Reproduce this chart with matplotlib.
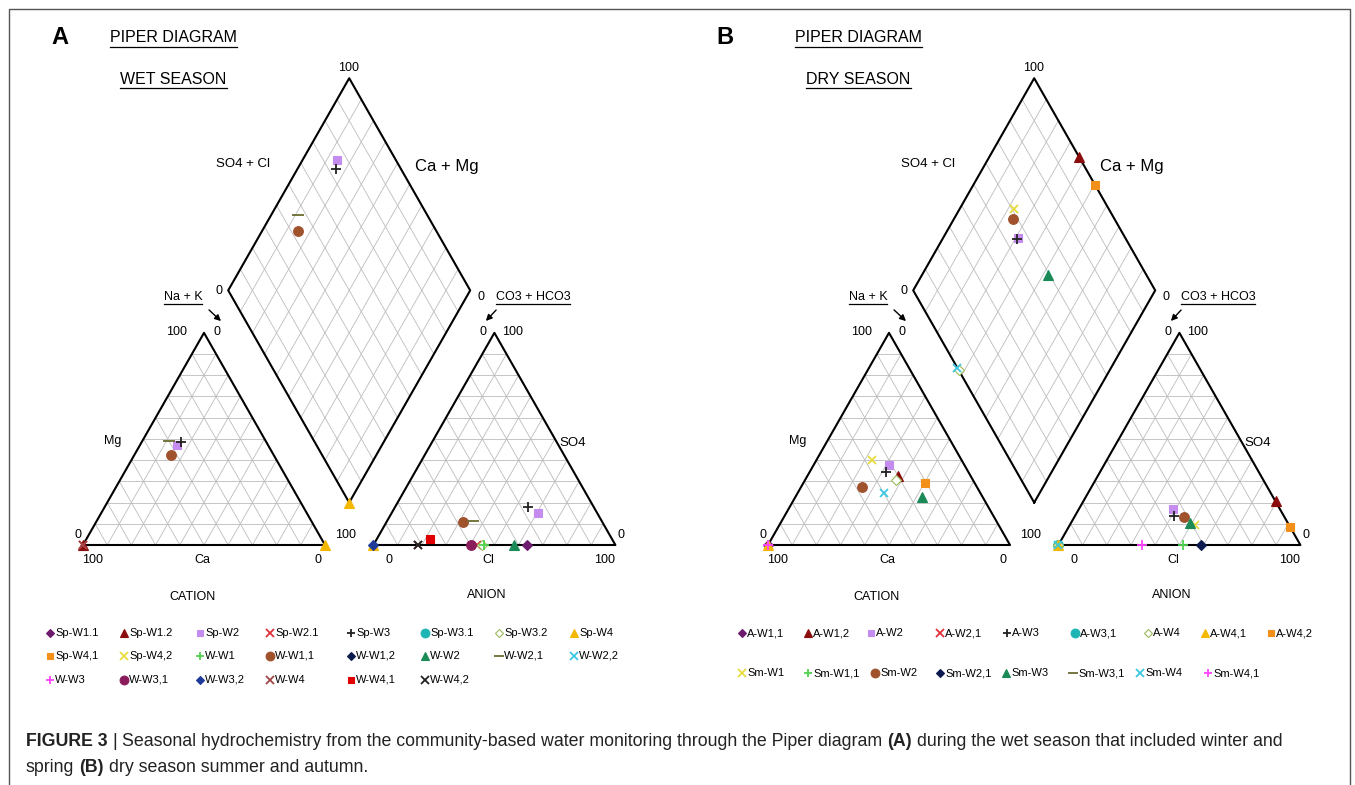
import numpy as np
import matplotlib
matplotlib.use('Agg')
import matplotlib.pyplot as plt

plt.rcParams['font.family'] = ['Liberation Sans', 'DejaVu Sans']

W, H = 1355, 785
UX, UY = 242, 245          # pixels per diagram unit
SQ3 = np.sqrt(3) / 2
GAP = 0.2
nan = np.nan

# ---------------- data (percent of meq) ----------------
wet_names = ['Sp-W1.1', 'Sp-W1.2', 'Sp-W2', 'Sp-W2.1', 'Sp-W3', 'Sp-W3.1', 'Sp-W3.2', 'Sp-W4',
             'Sp-W4,1', 'Sp-W4,2', 'W-W1', 'W-W1,1', 'W-W1,2', 'W-W2', 'W-W2,1', 'W-W2,2',
             'W-W3', 'W-W3,1', 'W-W3,2', 'W-W4', 'W-W4,1', 'W-W4,2']
wet_cat_mg = [nan, 0, 47.3, 0, 48.4, nan, nan, 0, nan, nan, nan, 42.4, nan, nan, 49.2, nan,
              nan, nan, nan, 0, nan, nan]
wet_cat_nak = [nan, 0, 15.1, 0, 16.2, nan, nan, 100, nan, nan, nan, 15.0, nan, nan, 11.1, nan,
               nan, nan, nan, 0, nan, nan]
wet_an_so4 = [0, nan, 15.1, 0, 18.0, nan, 0, 0, nan, nan, 0, 11.0, nan, 0, 11.3, nan,
              nan, 0, 0, 0, 2.7, 0]
wet_an_cl = [63.5, nan, 60.5, 43.0, 54.9, nan, 45.0, 0, nan, nan, 45.5, 31.4, nan, 58.3, 35.4, nan,
             nan, 40.4, 0, 18.3, 21.9, 18.3]
wet_dia_camg = [nan, nan, 85.5, nan, 84.0, nan, nan, 0, nan, nan, nan, 85.2, nan, nan, 88.7, nan,
                nan, nan, nan, nan, nan, nan]
wet_dia_so4cl = [nan, nan, 75.8, nan, 73.3, nan, nan, 0, nan, nan, nan, 42.6, nan, nan, 46.7, nan,
                 nan, nan, nan, nan, nan, nan]

dry_names = ['A-W1,1', 'A-W1,2', 'A-W2', 'A-W2,1', 'A-W3', 'A-W3,1', 'A-W4', 'A-W4,1', 'A-W4,2',
             'Sm-W1', 'Sm-W1,1', 'Sm-W2', 'Sm-W2,1', 'Sm-W3', 'Sm-W3,1', 'Sm-W4', 'Sm-W4,1']
dry_cat_mg = [0, 32.5, 37.8, nan, 34.6, nan, 30.5, 0, 29.4, 40.0, nan, 27.5, nan, 22.5, nan, 24.6, 0]
dry_cat_nak = [0, 37.3, 31.1, nan, 31.5, nan, 37.6, 0, 50.3, 23.1, nan, 25.0, nan, 52.3, nan, 35.6, 0]
dry_an_so4 = [nan, 20.6, 17.1, nan, 13.8, 0, 0, 0, 8.7, 9.5, 0, 13.2, 0, 10.6, nan, 0, 0]
dry_an_cl = [nan, 79.6, 38.7, nan, 41.0, 0, 0, 0, 91.2, 51.5, 51.4, 45.1, 59.0, 49.2, nan, 0, 34.5]
dry_dia_camg = [nan, 63.0, 69.0, nan, 69.0, nan, 62.4, nan, 49.9, 77.5, nan, 75.4, nan, 48.0, nan, 63.5, nan]
dry_dia_so4cl = [nan, 99.7, 55.8, nan, 55.0, nan, 0, nan, 99.9, 60.7, nan, 58.2, nan, 59.4, nan, 0, nan]

# series styles (same sequence in both panels)
s_marker = ['D', '^', 's', 'x', '+', 'o', 'D', '^', 's', 'x', '+', 'o', 'D', '^', '_', 'x',
            '+', 'o', 'D', 'x', 's', 'x']
s_color = ['#6d1b6d', '#8b0c0c', '#c58cf0', '#e0303a', '#222222', '#1fb5b5', '#9bbb59', '#f5b800',
           '#f39019', '#e8dc3c', '#4fd24f', '#a0522d', '#0d1a4d', '#1a8a57', '#6b6b2f', '#3cc8e0',
           '#ff44ff', '#8b1c5c', '#1f3a99', '#a04646', '#e00000', '#222222']
ms_by = {'o': 7, '^': 6.5, 's': 5.5, 'D': 5, 'x': 6, '+': 7, '_': 8}


def cat_xy(mg, nak):
    mg, nak = np.asarray(mg, float) / 100, np.asarray(nak, float) / 100
    return nak + mg / 2, mg * SQ3


def an_xy(so4, cl):
    so4, cl = np.asarray(so4, float) / 100, np.asarray(cl, float) / 100
    return 1 + GAP + cl + so4 / 2, so4 * SQ3


def dia_xy(camg, so4cl):
    u, v = np.asarray(camg, float) / 100, np.asarray(so4cl, float) / 100
    return 1 + GAP / 2 + (v - u) / 2, GAP * SQ3 + (u + v) * SQ3


def style(i):
    m = s_marker[i]
    c = s_color[i]
    kw = dict(marker=m, color=c, ms=ms_by[m], ls='none', mew=1.3 if m in 'x+_' else 0.8)
    if i == 6:
        kw.update(mfc='white', mec=c)
    return kw


def draw_piper(x0, cat_mg, cat_nak, an_so4, an_cl, dia_camg, dia_so4cl):
    ax = fig.add_axes([(x0 - 0.3 * UX) / W, (H - (545 + 0.65 * UY)) / H,
                       2.8 * UX / W, 2.88 * UY / H])
    ax.set_xlim(-0.3, 2.5)
    ax.set_ylim(-0.65, 2.23)
    ax.axis('off')
    ax.patch.set_visible(False)
    gk = dict(color='#bcbcbc', lw=0.6, zorder=1)
    for t in range(10, 100, 10):
        # cation grid
        ax.plot(*cat_xy([t, t], [0, 100 - t]), **gk)
        ax.plot(*cat_xy([0, 100 - t], [t, t]), **gk)
        ax.plot(*cat_xy([0, 100 - t], [100 - t, 0]), **gk)
        # anion grid
        ax.plot(*an_xy([t, t], [0, 100 - t]), **gk)
        ax.plot(*an_xy([0, 100 - t], [t, t]), **gk)
        ax.plot(*an_xy([0, 100 - t], [100 - t, 0]), **gk)
        # diamond grid
        ax.plot(*dia_xy([t, t], [0, 100]), **gk)
        ax.plot(*dia_xy([0, 100], [t, t]), **gk)
    bk = dict(color='black', lw=1.5, zorder=2)
    ax.plot(*cat_xy([0, 0, 100, 0], [0, 100, 0, 0]), **bk)
    ax.plot(*an_xy([0, 0, 100, 0], [0, 100, 0, 0]), **bk)
    ax.plot(*dia_xy([0, 100, 100, 0, 0], [0, 0, 100, 100, 0]), **bk)
    for i in range(len(cat_mg)):
        kw = style(i)
        if not np.isnan(cat_mg[i]):
            ax.plot(*cat_xy([cat_mg[i]], [cat_nak[i]]), zorder=5, clip_on=False, **kw)
        if not np.isnan(an_so4[i]):
            ax.plot(*an_xy([an_so4[i]], [an_cl[i]]), zorder=5, clip_on=False, **kw)
        if not np.isnan(dia_camg[i]):
            ax.plot(*dia_xy([dia_camg[i]], [dia_so4cl[i]]), zorder=5, clip_on=False, **kw)
    return ax


fig = plt.figure(figsize=(W / 100, H / 100), dpi=100)
ax0 = fig.add_axes([0, 0, 1, 1])
ax0.set_xlim(0, W)
ax0.set_ylim(H, 0)
ax0.axis('off')

# frame
ax0.plot([9, 9, 1350, 1350], [790, 9, 9, 790], color='#555555', lw=1)

draw_piper(83, wet_cat_mg, wet_cat_nak, wet_an_so4, wet_an_cl, wet_dia_camg, wet_dia_so4cl)
draw_piper(768, dry_cat_mg, dry_cat_nak, dry_an_so4, dry_an_cl, dry_dia_camg, dry_dia_so4cl)

labels = [('100', 349, 68, 9), ('SO4 + Cl', 243, 164, 9.5), ('Ca + Mg', 447, 166, 12),
          ('0', 219, 291, 9), ('0', 481, 297, 9),
          ('100', 177, 332, 9), ('0', 217, 332, 9), ('Mg', 113, 441, 9), ('0', 78, 535, 9),
          ('100', 93, 560, 9), ('Ca', 202, 560, 9), ('0', 318, 560, 9), ('100', 346, 535, 9),
          ('0', 483, 332, 9), ('100', 513, 332, 9), ('SO4', 573, 443, 9.5), ('0', 621, 535, 9),
          ('0', 389, 560, 9), ('Cl', 488, 560, 9), ('100', 605, 560, 9),
          ('CATION', 192, 597, 9), ('ANION', 487, 595, 9)]
DX = 685
under = []
for off, letter, season in [(0, 'A', 'WET SEASON'), (DX, 'B', 'DRY SEASON')]:
    for s, x, y, fs in labels:
        ax0.text(x + off, y, s, fontsize=fs, ha='center', va='center')
    ax0.text(60 + off * 0.97, 38, letter, fontsize=17, fontweight='bold', ha='center', va='center')
    for s, x, y, fs in [('PIPER DIAGRAM', 173.5, 38, 11.5), (season, 173.5, 79, 11.5),
                        ('Na + K', 183, 297, 9), ('CO3 + HCO3', 533, 297, 9)]:
        under.append(ax0.text(x + off, y, s, fontsize=fs, ha='center', va='center'))
    ax0.annotate('', xy=(223 + off, 323), xytext=(207 + off, 308),
                 arrowprops=dict(arrowstyle='-|>', color='black', lw=1, mutation_scale=9))
    ax0.annotate('', xy=(484 + off, 323), xytext=(498 + off, 308),
                 arrowprops=dict(arrowstyle='-|>', color='black', lw=1, mutation_scale=9))

# legends
leg_a_x = [50, 124, 200, 270, 351, 425, 499, 574]
leg_a_y = [633, 656, 680]
for i, name in enumerate(wet_names):
    x, y = leg_a_x[i % 8], leg_a_y[i // 8]
    kw = style(i)
    kw['ms'] = kw['ms'] * 0.9
    ax0.plot([x], [y], **kw)
    ax0.text(x + 5, y, name, fontsize=8, ha='left', va='center')

leg_b_x = [[742, 808, 871, 940, 1007, 1075, 1148, 1205, 1271],
           [742, 808, 875, 940, 1006, 1073, 1140, 1208]]
leg_b_y = [633, 673]
for i, name in enumerate(dry_names):
    r = 0 if i < 9 else 1
    x, y = leg_b_x[r][i if r == 0 else i - 9], leg_b_y[r]
    kw = style(i)
    kw['ms'] = kw['ms'] * 0.9
    ax0.plot([x], [y], **kw)
    ax0.text(x + 5, y, name, fontsize=8, ha='left', va='center')

fig.canvas.draw()
rend = fig.canvas.get_renderer()
for t in under:
    bb = t.get_window_extent(rend)
    yb = H - bb.y0 + 1
    ax0.plot([bb.x0, bb.x1], [yb, yb], color='black', lw=0.9)

# caption, drawn as runs of bold / regular text
cap1 = [('FIGURE 3', 'bold'), ('|', 'normal'), ('Seasonal hydrochemistry from the community-based water '
        'monitoring through the Piper diagram', 'normal'), ('(A)', 'bold'),
        ('during the wet season that included winter and', 'normal')]
cap2 = [('spring', 'normal'), ('(B)', 'bold'), ('dry season summer and autumn.', 'normal')]


def draw_runs(runs, x, y, fs, keep=True):
    sp = ax0.text(0, 0, 'x x', fontsize=fs)
    sp2 = ax0.text(0, 0, 'xx', fontsize=fs)
    space = sp.get_window_extent(rend).width - sp2.get_window_extent(rend).width
    sp.remove()
    sp2.remove()
    x_start = x
    for k, (s, wt) in enumerate(runs):
        t = ax0.text(x, y, s, fontsize=fs, fontweight=wt, ha='left', va='center', color='#222222')
        x += t.get_window_extent(rend).width + space
        if not keep:
            t.remove()
    return x - space - x_start


w_test = draw_runs(cap1, 26, 741, 11, keep=False)
fs_cap = 11 * 1253 / w_test
draw_runs(cap1, 26, 741, fs_cap)
draw_runs(cap2, 26, 768, fs_cap)

fig.savefig('out.png', dpi=100)
